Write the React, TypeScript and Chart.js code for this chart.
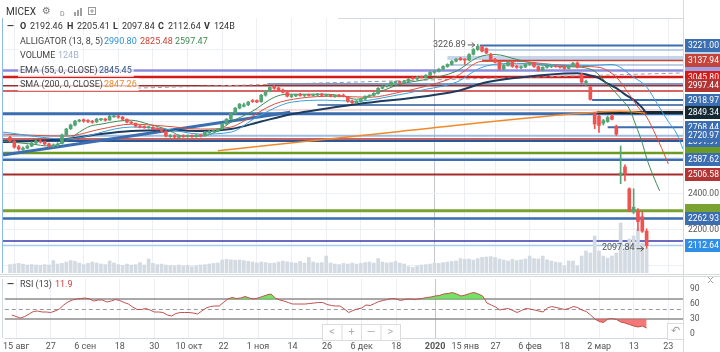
import React, { useEffect, useRef } from 'react';
import { Chart, registerables } from 'chart.js';

Chart.register(...registerables);

const FONT = 'Roboto, "Noto Sans", "DejaVu Sans", sans-serif';

// ---------- x axis (trading-day index -> label) ----------
const X_TICK_INDEX = [1, 9, 17, 25, 33, 41, 49, 57, 65, 73, 81, 89, 98, 105, 112, 120, 128, 136, 144, 152];
const X_TICK_LABELS = ['15 авг', '27', '6 сен', '18', '30', '10 окт', '22', '1 ноя', '14', '26', '6 дек', '18', '2020', '15 янв', '27', '6 фев', '18', '2 мар', '13', '23'];
const YEAR_INDEX = 98;

// ---------- candles ----------
const OPEN = [
  2712, 2690, 2660, 2645, 2652, 2664, 2680, 2692, 2688, 2676,
  2662, 2668, 2678, 2726, 2760, 2780, 2802, 2810, 2804, 2800,
  2798, 2810, 2814, 2808, 2826, 2830, 2824, 2812, 2796, 2790,
  2772, 2772, 2766, 2768, 2760, 2757, 2746, 2716, 2722, 2712,
  2720, 2716, 2720, 2716, 2722, 2720, 2738, 2744, 2748, 2760,
  2786, 2814, 2846, 2874, 2884, 2892, 2914, 2916, 2910, 2946,
  2968, 2994, 2986, 2974, 2960, 2938, 2942, 2950, 2944, 2946,
  2944, 2946, 2952, 2944, 2946, 2938, 2942, 2944, 2936, 2912,
  2904, 2912, 2924, 2940, 2944, 2956, 2984, 2994, 3000, 3016,
  3018, 3016, 3022, 3040, 3036, 3046, 3044, 3056, 3072, 3078,
  3090, 3104, 3116, 3134, 3150, 3144, 3140, 3172, 3198, 3214,
  3204, 3172, 3144, 3128, 3090, 3110, 3130, 3106, 3098, 3102,
  3116, 3124, 3104, 3084, 3100, 3104, 3106, 3104, 3102, 3094,
  3106, 3124, 3062, 3016, 2990, 2840, 2830, 2790, 2800, 2830,
  2774, 2500, 2548, 2427, 2298, 2305, 2272, 2192.46,
];
const HIGH = [
  2718, 2695, 2668, 2660, 2670, 2688, 2698, 2700, 2692, 2680,
  2676, 2682, 2730, 2762, 2786, 2806, 2812, 2814, 2810, 2806,
  2818, 2818, 2818, 2834, 2836, 2834, 2828, 2815, 2800, 2792,
  2780, 2776, 2774, 2772, 2765, 2760, 2750, 2728, 2726, 2724,
  2726, 2726, 2724, 2728, 2728, 2745, 2750, 2752, 2762, 2790,
  2816, 2850, 2878, 2900, 2902, 2912, 2922, 2920, 2950, 2970,
  2994, 3000, 2990, 2980, 2964, 2948, 2952, 2956, 2950, 2952,
  2952, 2956, 2956, 2950, 2950, 2946, 2950, 2952, 2940, 2918,
  2916, 2928, 2942, 2948, 2960, 2988, 2998, 3004, 3020, 3024,
  3024, 3028, 3038, 3046, 3050, 3052, 3060, 3076, 3082, 3094,
  3110, 3120, 3138, 3150, 3156, 3148, 3176, 3204, 3226.89, 3220,
  3208, 3178, 3150, 3132, 3116, 3132, 3134, 3112, 3108, 3120,
  3128, 3128, 3108, 3104, 3110, 3110, 3112, 3108, 3106, 3110,
  3128, 3130, 3066, 3030, 2995, 2850, 2836, 2812, 2830, 2840,
  2780, 2664, 2560, 2432, 2427, 2318, 2300, 2205.41,
];
const LOW = [
  2688, 2652, 2640, 2638, 2648, 2660, 2676, 2680, 2670, 2658,
  2656, 2662, 2676, 2722, 2755, 2776, 2797, 2796, 2794, 2790,
  2794, 2805, 2802, 2806, 2822, 2818, 2808, 2792, 2786, 2770,
  2764, 2762, 2762, 2754, 2752, 2742, 2714, 2712, 2708, 2708,
  2712, 2712, 2712, 2712, 2714, 2718, 2734, 2740, 2744, 2756,
  2782, 2810, 2842, 2870, 2880, 2888, 2906, 2904, 2906, 2940,
  2964, 2978, 2968, 2958, 2936, 2932, 2938, 2940, 2938, 2940,
  2940, 2942, 2940, 2938, 2936, 2934, 2936, 2936, 2906, 2898,
  2900, 2908, 2920, 2934, 2940, 2952, 2980, 2990, 2996, 3010,
  3010, 3012, 3018, 3034, 3032, 3040, 3040, 3052, 3066, 3074,
  3086, 3100, 3112, 3130, 3138, 3116, 3136, 3168, 3194, 3186,
  3176, 3140, 3124, 3084, 3086, 3106, 3100, 3094, 3092, 3098,
  3112, 3100, 3078, 3080, 3096, 3098, 3100, 3096, 3088, 3090,
  3102, 3096, 3010, 3000, 2918, 2760, 2740, 2780, 2795, 2808,
  2722, 2455, 2470, 2300, 2290, 2195, 2185, 2097.84,
];
const CLOSE = [
  2692, 2658, 2647, 2652, 2664, 2681, 2692, 2686, 2675, 2664,
  2670, 2675, 2725, 2758, 2780, 2802, 2807, 2802, 2800, 2796,
  2813, 2813, 2807, 2829, 2829, 2824, 2813, 2796, 2791, 2774,
  2769, 2768, 2770, 2758, 2757, 2747, 2719, 2722, 2714, 2720,
  2716, 2722, 2718, 2724, 2720, 2741, 2744, 2748, 2758, 2785,
  2813, 2846, 2874, 2896, 2892, 2907, 2910, 2908, 2945, 2967,
  2989, 2984, 2973, 2962, 2940, 2944, 2948, 2944, 2946, 2944,
  2948, 2952, 2945, 2947, 2940, 2942, 2940, 2938, 2912, 2904,
  2912, 2924, 2940, 2945, 2956, 2984, 2995, 3000, 3017, 3018,
  3016, 3022, 3034, 3036, 3045, 3044, 3056, 3072, 3078, 3089,
  3105, 3116, 3133, 3144, 3142, 3140, 3171, 3199, 3216, 3190,
  3180, 3144, 3128, 3090, 3110, 3127, 3105, 3100, 3102, 3116,
  3122, 3105, 3083, 3100, 3105, 3106, 3104, 3100, 3094, 3105,
  3122, 3100, 3018, 3022, 2922, 2786, 2778, 2805, 2822, 2812,
  2730, 2515, 2510, 2306, 2325, 2245, 2192, 2112.64,
];
// volume, billions
const VOLUME = [
  42, 45, 48, 44, 40, 42, 40, 38, 42, 40,
  62, 45, 48, 55, 62, 58, 50, 42, 48, 55,
  50, 45, 42, 60, 50, 42, 38, 45, 40, 42,
  52, 40, 70, 48, 42, 45, 40, 38, 36, 40,
  35, 38, 32, 36, 40, 42, 45, 48, 50, 65,
  68, 66, 64, 65, 62, 58, 55, 50, 55, 52,
  48, 50, 55, 60, 56, 52, 50, 58, 50, 78,
  55, 50, 52, 85, 50, 45, 42, 48, 45, 50,
  45, 48, 52, 55, 50, 72, 55, 50, 52, 58,
  50, 45, 32, 28, 35, 40, 42, 45, 50, 48,
  52, 55, 58, 60, 72, 68, 70, 65, 72, 78,
  80, 82, 78, 70, 65, 60, 68, 62, 66, 70,
  85, 72, 70, 85, 66, 60, 55, 52, 35, 60,
  60, 35, 85, 110, 100, 185, 110, 85, 75, 85,
  100, 250, 125, 170, 185, 220, 150, 124,
];
const RSI = [
  38, 35, 32, 35, 40, 45, 46, 44, 44, 43,
  46, 50, 58, 64, 68, 70, 71, 72, 70, 66,
  68, 68, 64, 66, 69, 67, 63, 60, 54, 49,
  49, 51, 48, 44, 44, 43, 38, 36, 41, 43,
  43, 43, 42, 40, 46, 52, 55, 56, 56, 63,
  70, 73, 71, 72, 75, 72, 70, 72, 75, 78,
  80, 72, 68, 66, 63, 60, 60, 60, 60, 61,
  62, 63, 63, 59, 57, 56, 56, 50, 43, 47,
  50, 52, 58, 57, 61, 65, 67, 69, 71, 70,
  67, 69, 70, 69, 70, 71, 73, 74, 76, 77,
  80, 81, 83, 80, 76, 78, 81, 83, 80, 76,
  62, 58, 54, 48, 50, 51, 47, 43, 47, 51,
  50, 48, 46, 44, 52, 55, 53, 51, 49, 51,
  55, 53, 48, 45, 38, 30, 25, 23, 30, 31,
  29, 24, 22, 19, 16, 14, 16, 11.9,
];

// ---------- indicator lines: [index, price] ----------
const JAW: [number, number][] = [
  [-1.6, 2741], [13, 2703], [28, 2769], [36, 2758], [44, 2730], [51, 2741], [57, 2824], [65, 2907],
  [73, 2918], [80, 2912], [88, 2940], [96, 2978], [103, 3017], [109, 3100], [117, 3122], [125, 3116],
  [134, 3110], [139, 3116], [144, 3045], [147, 2991], [149.5, 2896], [152, 2800], [154, 2730], [155.4, 2647],
];
const TEETH: [number, number][] = [
  [-1.6, 2730], [13, 2719], [21, 2758], [28, 2785], [36, 2774], [44, 2758], [51, 2769], [54, 2802],
  [61, 2896], [67, 2929], [75, 2940], [83, 2934], [90, 2962], [96, 2995], [103, 3050], [109, 3133],
  [117, 3133], [125, 3116], [132, 3105], [136, 3100], [140, 3045], [143, 2950], [145, 2880], [147, 2825],
  [149, 2730], [150.5, 2650], [152, 2565],
];
const LIPS: [number, number][] = [
  [-1.6, 2690], [5, 2675], [9, 2664], [13, 2692], [16, 2741], [18.5, 2774], [21, 2785], [25, 2802],
  [28, 2807], [32, 2785], [36, 2758], [40, 2719], [44, 2719], [48, 2747], [51, 2796], [56, 2857],
  [61, 2934], [64, 2951], [73, 2951], [77, 2940], [80, 2923], [84, 2951], [90, 3006], [96, 3033],
  [103, 3078], [108, 3155], [112, 3171], [117, 3144], [122, 3116], [127, 3105], [132, 3100], [135, 3078],
  [138, 3006], [141.6, 2912], [143, 2870], [144.5, 2780], [146, 2680], [147, 2597], [148.5, 2500], [150, 2416],
];
const EMA55: [number, number][] = [
  [-1.6, 2686], [5, 2692], [13, 2703], [21, 2730], [28, 2747], [36, 2752], [44, 2747], [51, 2758],
  [58, 2800], [65, 2840], [80, 2896], [96, 2940], [103, 2967], [110, 3017], [125, 3061], [131, 3067],
  [134, 3055], [136, 3040], [138, 3010], [140, 2985], [142, 2950], [144, 2920], [146, 2875], [147, 2845],
];
const SMA200: [number, number][] = [[48, 2638], [90, 2745], [136, 2852], [141, 2856], [147, 2847]];
const TREND_SOLID: [number, number][] = [[-1.6, 2614], [64.7, 2851]];
const TREND_DASHED: [number, number][] = [[29.3, 2985], [155.4, 3069]];

const ALLIGATOR_LAST = [2990.8, 2825.48, 2597.47];
const EMA_LAST = 2845.45;
const SMA_LAST = 2847.26;

// horizontal levels: price, colour, width, start index
const LEVELS: [number, string, number, number][] = [
  [3221.0, '#3b6db1', 2, 108.5],
  [3196, '#aac2e4', 1.5, 108.5],
  [3152, 'rgba(150,178,218,0.55)', 4, 101],
  [3137.94, '#c4433b', 1.5, 109],
  [3113, '#7f9dca', 1, 101],
  [3082, '#8c8cdf', 2.5, -2],
  [3045.8, '#d51a1a', 2.5, -2],
  [3008, '#4a78b5', 1.5, 59.4],
  [2997.44, '#a52a2a', 1.5, -2],
  [2969, '#c83232', 1.5, -2],
  [2918.97, '#3b6db1', 2, 134.4],
  [2891, '#2d5896', 1.5, 71],
  [2864, 'rgba(220,140,140,0.6)', 1, 56],
  [2843, '#3b6db1', 3, -2],
  [2849.34, '#152935', 3, 135.6],
  [2768.44, '#3b6db1', 2, 138],
  [2720.97, 'rgba(140,178,222,0.85)', 2, -2],
  [2703, '#b03030', 1.5, -2],
  [2691.97, '#2d5896', 2, -2],
  [2625, '#6c9b22', 2.5, -2],
  [2587.62, '#3b6db1', 2.5, -2],
  [2506.58, '#a52a2a', 2, -2],
  [2305, '#79a232', 3, -2],
  [2262.93, '#3b6db1', 2.5, -2],
  [2138, '#3a3ab0', 1.5, -2],
  [2112.64, '#a9cbef', 1.5, -2],
];
// right-axis tags: price, background, show text
const PRICE_TAGS: [number, string, boolean][] = [
  [3196, '#bfd2ea', false],
  [3082, '#a0a0e6', false],
  [3221.0, '#3b6db1', true],
  [3137.94, '#c4433b', true],
  [3045.8, '#d51a1a', true],
  [2997.44, '#b23535', true],
  [2918.97, '#3b6db1', true],
  [2849.34, '#152935', true],
  [2768.44, '#3b6db1', true],
  [2691.97, '#3b6db1', true],
  [2720.97, '#3b6db1', true],
  [2625, '#6c9b22', false],
  [2587.62, '#3b6db1', true],
  [2506.58, '#b23535', true],
  [2305, '#79a232', false],
  [2262.93, '#3b6db1', true],
  [2112.64, '#2f8fe6', true],
];
const PRICE_GRID = [2000, 2200, 2400, 2600, 2800, 3000, 3200];
const PRICE_AXIS_LABELS = [2200, 2400];
const RSI_TICKS = [0, 30, 60, 90];

const XMIN = -1.62;
const XMAX = 155.4;
const PMAX = 3373.4;
const PMIN = 1960.4;
const VOL_MAX = 1275;

const GREEN = '#53a575';
const RED = '#ef5350';

type Seg = { x: number; t: string; c: string; b?: boolean };

function drawRow(ctx: CanvasRenderingContext2D, y: number, segs: Seg[], size: number, bg = true) {
  let minX = segs[0].x;
  let maxX = 0;
  for (const s of segs) {
    ctx.font = `${s.b ? 'bold ' : ''}${size}px ${FONT}`;
    maxX = Math.max(maxX, s.x + ctx.measureText(s.t).width);
  }
  if (bg) {
    ctx.fillStyle = 'rgba(255,255,255,0.72)';
    ctx.fillRect(minX - 2, y - 7, maxX - minX + 4, 13);
  }
  ctx.textBaseline = 'middle';
  ctx.textAlign = 'left';
  for (const s of segs) {
    ctx.font = `${s.b ? 'bold ' : ''}${size}px ${FONT}`;
    ctx.fillStyle = s.c;
    ctx.fillText(s.t, s.x, y);
  }
}

const pts = (a: [number, number][]) => a.map(([x, y]) => ({ x, y }));

export default function App() {
  const priceRef = useRef<HTMLCanvasElement>(null);
  const rsiRef = useRef<HTMLCanvasElement>(null);

  useEffect(() => {
    Chart.defaults.font.family = FONT;
    const idx = CLOSE.map((_, i) => i);
    const colors = idx.map((i) => (CLOSE[i] >= OPEN[i] ? GREEN : RED));

    const xAxis = (showLabels: boolean, h: number) => ({
      type: 'linear' as const,
      min: XMIN,
      max: XMAX,
      offset: false,
      afterBuildTicks: (s: any) => {
        s.ticks = X_TICK_INDEX.map((v) => ({ value: v }));
      },
      afterFit: (s: any) => {
        s.height = h;
      },
      ticks: {
        display: showLabels,
        autoSkip: false,
        maxRotation: 0,
        padding: 3,
        color: '#555',
        callback: (_v: any, i: number) => X_TICK_LABELS[i],
        font: (c: any) => ({ family: FONT, size: 9, weight: c.tick && c.tick.value === YEAR_INDEX ? 'bold' : 'normal' }),
      },
      grid: {
        offset: false,
        drawTicks: false,
        color: (c: any) => (c.tick && c.tick.value === YEAR_INDEX ? '#c4c8ce' : '#eceff3'),
      },
      border: { display: false },
    });

    const lineDs = (data: [number, number][], color: string, width: number, order: number, extra: any = {}) => ({
      type: 'line' as const,
      data: pts(data),
      yAxisID: 'y',
      borderColor: color,
      borderWidth: width,
      pointRadius: 0,
      cubicInterpolationMode: 'monotone' as const,
      order,
      ...extra,
    });

    const pricePlugin = {
      id: 'pricePlugin',
      beforeDatasetsDraw(chart: any) {
        const { ctx, chartArea: ca, scales } = chart;
        const x = scales.x;
        const y = scales.y;
        ctx.save();
        ctx.beginPath();
        ctx.rect(ca.left, ca.top, ca.right - ca.left, ca.bottom - ca.top);
        ctx.clip();
        for (const [p, color, w, start] of LEVELS) {
          const py = y.getPixelForValue(p);
          ctx.strokeStyle = color;
          ctx.lineWidth = w;
          ctx.beginPath();
          ctx.moveTo(Math.max(ca.left, x.getPixelForValue(start)), py);
          ctx.lineTo(ca.right, py);
          ctx.stroke();
        }
        ctx.restore();
      },
      afterDraw(chart: any) {
        const { ctx, chartArea: ca, scales } = chart;
        const x = scales.x;
        const y = scales.y;
        ctx.save();
        // borders
        ctx.strokeStyle = '#d5dae0';
        ctx.lineWidth = 1;
        ctx.beginPath();
        ctx.moveTo(338, ca.top + 0.5);
        ctx.lineTo(ca.right, ca.top + 0.5);
        ctx.moveTo(ca.right + 0.5, 0);
        ctx.lineTo(ca.right + 0.5, chart.height);
        ctx.moveTo(0, chart.height - 1.5);
        ctx.lineTo(720, chart.height - 1.5);
        ctx.stroke();
        ctx.strokeStyle = '#8fb8e4';
        ctx.beginPath();
        ctx.moveTo(2.5, ca.top);
        ctx.lineTo(2.5, ca.bottom);
        ctx.stroke();

        // plain axis labels
        ctx.font = `8.5px ${FONT}`;
        ctx.fillStyle = '#555';
        ctx.textBaseline = 'middle';
        ctx.textAlign = 'left';
        for (const v of PRICE_AXIS_LABELS) {
          ctx.fillText(v.toFixed(2), ca.right + 5, y.getPixelForValue(v));
        }

        // price tags
        for (const [p, bg, show] of PRICE_TAGS) {
          const py = y.getPixelForValue(p);
          ctx.fillStyle = bg;
          ctx.fillRect(ca.right + 2, Math.round(py - 6.5), 36, 13);
          if (show) {
            ctx.fillStyle = '#fff';
            ctx.font = `8.5px ${FONT}`;
            ctx.textBaseline = 'middle';
            ctx.textAlign = 'left';
            ctx.fillText(p.toFixed(2), ca.right + 5, py + 0.5);
          }
        }

        // high / low annotations
        const hiIdx = HIGH.indexOf(Math.max(...HIGH));
        const loIdx = LOW.indexOf(Math.min(...LOW));
        const ann = (i: number, v: number) => {
          const px = x.getPixelForValue(i);
          const py = y.getPixelForValue(v);
          ctx.font = `9px ${FONT}`;
          ctx.fillStyle = '#555';
          ctx.textAlign = 'right';
          ctx.textBaseline = 'middle';
          ctx.fillText(v.toFixed(2), px - 12, py);
          ctx.strokeStyle = '#555';
          ctx.lineWidth = 1;
          ctx.beginPath();
          ctx.moveTo(px - 10, py + 0.5);
          ctx.lineTo(px - 3, py + 0.5);
          ctx.moveTo(px - 6, py - 2);
          ctx.lineTo(px - 3, py + 0.5);
          ctx.lineTo(px - 6, py + 3);
          ctx.stroke();
        };
        ann(hiIdx, HIGH[hiIdx]);
        ann(loIdx, LOW[loIdx]);

        // toolbar
        const L = CLOSE.length - 1;
        drawRow(ctx, 12, [{ x: 6, t: 'MICEX', c: '#333' }], 10, false);
        ctx.font = `10px "DejaVu Sans", sans-serif`;
        ctx.fillStyle = '#7a7a7a';
        ctx.fillText('⚙', 42, 11);
        ctx.font = `7px ${FONT}`;
        ctx.fillStyle = '#888';
        ctx.fillText('D', 60, 14);
        ctx.fillStyle = '#a0a0a0';
        ctx.fillRect(74, 12, 2, 4);
        ctx.fillRect(77, 10, 2, 6);
        ctx.fillRect(80, 8, 2, 8);
        ctx.strokeStyle = '#999';
        ctx.strokeRect(88.5, 7.5, 7, 7);
        ctx.beginPath();
        ctx.moveTo(92, 9);
        ctx.lineTo(92, 13);
        ctx.moveTo(90, 11);
        ctx.lineTo(94, 11);
        ctx.stroke();

        // legend rows
        drawRow(ctx, 27, [
          { x: 7, t: '—', c: '#333', b: true },
          { x: 20, t: 'O', c: '#333', b: true },
          { x: 30, t: OPEN[L].toFixed(2), c: '#333' },
          { x: 67, t: 'H', c: '#333', b: true },
          { x: 77, t: HIGH[L].toFixed(2), c: '#333' },
          { x: 113, t: 'L', c: '#333', b: true },
          { x: 122, t: LOW[L].toFixed(2), c: '#333' },
          { x: 158, t: 'C', c: '#333', b: true },
          { x: 168, t: CLOSE[L].toFixed(2), c: '#333' },
          { x: 204, t: 'V', c: '#333', b: true },
          { x: 214, t: `${VOLUME[L]}B`, c: '#333' },
        ], 9, false);
        drawRow(ctx, 42, [
          { x: 20, t: 'ALLIGATOR (13, 8, 5)', c: '#444' },
          { x: 104, t: ALLIGATOR_LAST[0].toFixed(2), c: '#2c8fd6' },
          { x: 140, t: ALLIGATOR_LAST[1].toFixed(2), c: '#cf3f33' },
          { x: 175, t: ALLIGATOR_LAST[2].toFixed(2), c: '#3a8b4f' },
        ], 9);
        drawRow(ctx, 56, [
          { x: 20, t: 'VOLUME', c: '#444' },
          { x: 58, t: `${VOLUME[L]}B`, c: '#a3b4ca' },
        ], 9);
        drawRow(ctx, 71, [
          { x: 20, t: 'EMA (55, 0, CLOSE)', c: '#444' },
          { x: 99, t: EMA_LAST.toFixed(2), c: '#35557a' },
        ], 9);
        drawRow(ctx, 85, [
          { x: 20, t: 'SMA (200, 0, CLOSE)', c: '#444' },
          { x: 104, t: SMA_LAST.toFixed(2), c: '#e88b2e' },
        ], 9);
        ctx.restore();
      },
    };

    const priceChart = new Chart(priceRef.current as HTMLCanvasElement, {
      type: 'bar',
      data: {
        datasets: [
          {
            type: 'bar',
            data: idx.map((i) => ({ x: i, y: VOLUME[i] })) as any,
            yAxisID: 'vol',
            backgroundColor: '#d3dae2',
            barThickness: 3,
            grouped: false,
            order: 10,
          },
          lineDs(TREND_SOLID, '#3b6db1', 3, 9, { cubicInterpolationMode: 'default', tension: 0 }),
          lineDs(TREND_DASHED, '#9a9a9a', 1, 9, { cubicInterpolationMode: 'default', tension: 0, borderDash: [4, 3] }),
          lineDs(SMA200, '#f0892a', 1.5, 7),
          lineDs(EMA55, '#1f3b5e', 2, 6),
          lineDs(JAW, '#3aa0dc', 1, 5),
          lineDs(TEETH, '#d9503f', 1, 5),
          lineDs(LIPS, '#3c8b55', 1, 5),
          {
            type: 'bar',
            data: idx.map((i) => ({ x: i, y: [LOW[i], HIGH[i]] })) as any,
            yAxisID: 'y',
            backgroundColor: colors,
            barThickness: 1,
            grouped: false,
            order: 2,
          },
          {
            type: 'bar',
            data: idx.map((i) => ({ x: i, y: [OPEN[i], CLOSE[i]] })) as any,
            yAxisID: 'y',
            backgroundColor: colors,
            barThickness: 3,
            minBarLength: 1,
            grouped: false,
            order: 1,
          },
        ] as any,
      },
      options: {
        responsive: false,
        animation: false,
        events: [],
        layout: { padding: { left: 3, top: 18, right: 0, bottom: 0 } },
        plugins: { legend: { display: false }, tooltip: { enabled: false } },
        scales: {
          x: xAxis(false, 3) as any,
          y: {
            type: 'linear',
            position: 'right',
            min: PMIN,
            max: PMAX,
            afterBuildTicks: (s: any) => {
              s.ticks = PRICE_GRID.map((v) => ({ value: v }));
            },
            afterFit: (s: any) => {
              s.width = 37;
            },
            ticks: { display: false },
            grid: { color: '#eceff3', drawTicks: false },
            border: { display: false },
          } as any,
          vol: { type: 'linear', display: false, min: 0, max: VOL_MAX } as any,
        },
      },
      plugins: [pricePlugin],
    });

    const rsiPlugin = {
      id: 'rsiPlugin',
      beforeDatasetsDraw(chart: any) {
        const { ctx, chartArea: ca, scales } = chart;
        const y = scales.y;
        ctx.save();
        ctx.lineWidth = 1.5;
        ctx.strokeStyle = '#8c8c8c';
        for (const v of [70, 30]) {
          const py = y.getPixelForValue(v);
          ctx.beginPath();
          ctx.moveTo(ca.left, py);
          ctx.lineTo(ca.right, py);
          ctx.stroke();
        }
        ctx.lineWidth = 1;
        ctx.strokeStyle = '#9a9a9a';
        ctx.setLineDash([4, 3]);
        const p50 = Math.round(y.getPixelForValue(50)) + 0.5;
        ctx.beginPath();
        ctx.moveTo(ca.left, p50);
        ctx.lineTo(ca.right, p50);
        ctx.stroke();
        ctx.restore();
      },
      afterDraw(chart: any) {
        const { ctx, chartArea: ca, scales } = chart;
        const y = scales.y;
        ctx.save();
        ctx.strokeStyle = '#d5dae0';
        ctx.lineWidth = 1;
        ctx.beginPath();
        ctx.moveTo(0, 0.5);
        ctx.lineTo(720, 0.5);
        ctx.moveTo(ca.right + 0.5, 0);
        ctx.lineTo(ca.right + 0.5, chart.height);
        ctx.moveTo(ca.left, ca.bottom + 0.5);
        ctx.lineTo(ca.right, ca.bottom + 0.5);
        ctx.moveTo(2.5, ca.top);
        ctx.lineTo(2.5, ca.bottom);
        ctx.stroke();

        // axis labels
        ctx.font = `8.5px ${FONT}`;
        ctx.fillStyle = '#555';
        ctx.textAlign = 'left';
        ctx.textBaseline = 'middle';
        for (const v of RSI_TICKS) ctx.fillText(String(v), ca.right + 7, y.getPixelForValue(v));

        drawRow(ctx, 9, [
          { x: 7, t: '—', c: '#333', b: true },
          { x: 20, t: 'RSI (13)', c: '#444' },
          { x: 55, t: String(RSI[RSI.length - 1]), c: '#d04040' },
        ], 9, false);

        // navigation buttons
        const top = 48;
        const labels = ['<', '+', '—', '>'];
        ctx.fillStyle = 'rgba(255,255,255,0.9)';
        ctx.fillRect(322, top, 78, 16);
        ctx.strokeStyle = '#dcdcdc';
        ctx.strokeRect(322.5, top + 0.5, 78, 16);
        for (let k = 1; k < 4; k++) {
          ctx.beginPath();
          ctx.moveTo(322.5 + k * 19.5, top);
          ctx.lineTo(322.5 + k * 19.5, top + 16);
          ctx.stroke();
        }
        ctx.fillStyle = '#b0b0b0';
        ctx.font = `11px ${FONT}`;
        ctx.textAlign = 'center';
        ctx.textBaseline = 'middle';
        labels.forEach((l, k) => ctx.fillText(l, 332 + k * 19.5, top + 8.5));
        // undo
        ctx.fillStyle = 'rgba(255,255,255,0.9)';
        ctx.fillRect(667, 47, 16, 16);
        ctx.strokeRect(667.5, 47.5, 16, 16);
        ctx.fillStyle = '#a0a0a0';
        ctx.font = `11px "DejaVu Sans", sans-serif`;
        ctx.fillText('↶', 675.5, 55.5);
        // chevrons
        ctx.strokeStyle = '#9a9a9a';
        ctx.lineWidth = 1;
        ctx.beginPath();
        ctx.moveTo(708, 1);
        ctx.lineTo(710.5, 3.5);
        ctx.lineTo(713, 1);
        ctx.moveTo(708, 7);
        ctx.lineTo(710.5, 4.5);
        ctx.lineTo(713, 7);
        ctx.stroke();
        ctx.restore();
      },
    };

    const rsiData = idx.map((i) => ({ x: i, y: RSI[i] }));
    const rsiChart = new Chart(rsiRef.current as HTMLCanvasElement, {
      type: 'line',
      data: {
        datasets: [
          {
            data: rsiData,
            borderColor: '#c0504d',
            borderWidth: 1,
            pointRadius: 0,
            fill: { target: { value: 70 }, above: 'rgba(92,222,72,0.85)', below: 'rgba(0,0,0,0)' },
            order: 1,
          },
          {
            data: rsiData,
            borderColor: 'rgba(0,0,0,0)',
            borderWidth: 0,
            pointRadius: 0,
            fill: { target: { value: 30 }, above: 'rgba(0,0,0,0)', below: 'rgba(242,96,96,0.85)' },
            order: 2,
          },
        ] as any,
      },
      options: {
        responsive: false,
        animation: false,
        events: [],
        layout: { padding: { left: 3, top: 3, right: 0, bottom: 0 } },
        plugins: { legend: { display: false }, tooltip: { enabled: false } },
        scales: {
          x: xAxis(true, 14) as any,
          y: {
            type: 'linear',
            position: 'right',
            min: -8,
            max: 110,
            afterBuildTicks: (s: any) => {
              s.ticks = RSI_TICKS.map((v) => ({ value: v }));
            },
            afterFit: (s: any) => {
              s.width = 37;
            },
            ticks: { display: false },
            grid: { display: false },
            border: { display: false },
          } as any,
        },
      },
      plugins: [rsiPlugin],
    });

    return () => {
      priceChart.destroy();
      rsiChart.destroy();
    };
  }, []);

  return (
    <div style={{ position: 'fixed', left: 0, top: 0, width: 720, height: 352, background: '#fff', overflow: 'hidden' }}>
      <canvas ref={priceRef} width={720} height={276} style={{ position: 'absolute', left: 0, top: 0, width: 720, height: 276 }} />
      <canvas ref={rsiRef} width={720} height={76} style={{ position: 'absolute', left: 0, top: 276, width: 720, height: 76 }} />
    </div>
  );
}
